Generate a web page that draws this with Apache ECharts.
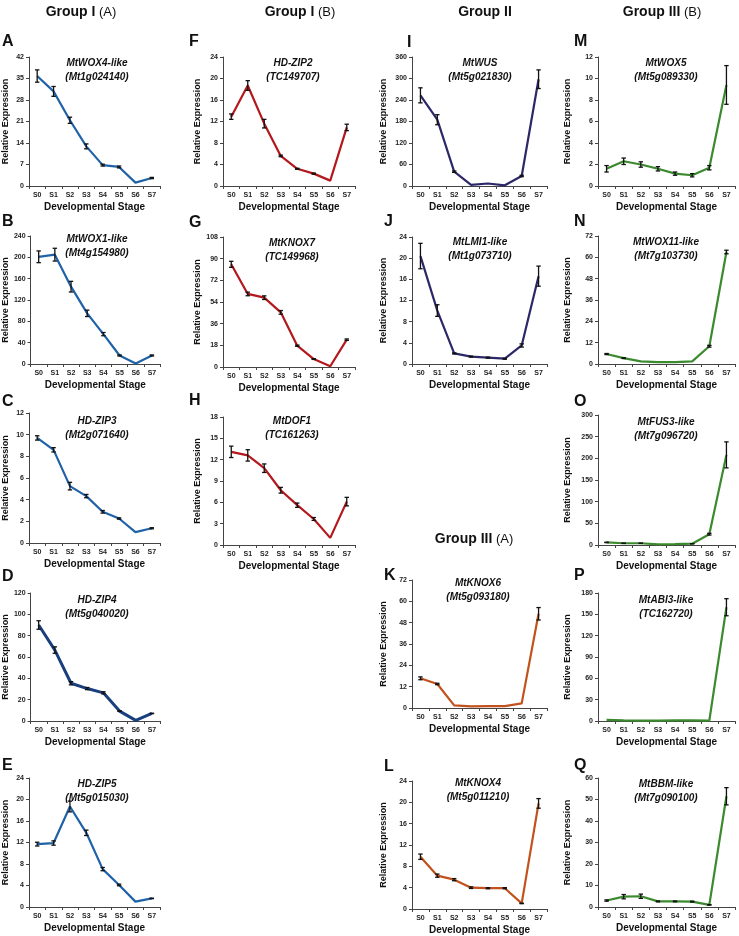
<!DOCTYPE html>
<html><head><meta charset="utf-8">
<script src="https://cdn.jsdelivr.net/npm/echarts@6/dist/echarts.min.js"></script>
<style>html,body{margin:0;padding:0;background:#fff}#c{width:739px;height:936px}</style>
</head><body><div id="c"></div>
<script>
// ---------- DATA ----------
const stages = ['S0','S1','S2','S3','S4','S5','S6','S7'];

const A_vals = [35.8, 30.8, 21.4, 12.9, 6.8, 6.2, 1.1, 2.6];
const A_err  = [2.0, 1.6, 1.0, 0.8, 0.3, 0.3, 0, 0.2];
const B_vals = [201, 205, 145, 95, 56, 16, 1, 16];
const B_err  = [11, 12, 10, 6, 3, 1, 0, 1];
const C_vals = [9.7, 8.6, 5.25, 4.33, 2.88, 2.26, 1.0, 1.36];
const C_err  = [0.2, 0.2, 0.35, 0.15, 0.12, 0.06, 0, 0.05];
const D_vals = [90, 66.5, 35.4, 30.4, 26.4, 9.3, 0.6, 7.1];
const D_err  = [4, 3, 1.5, 1, 1, 0.3, 0, 0.2];
const E_vals = [11.7, 11.9, 18.7, 13.8, 7.05, 4.1, 1.0, 1.6];
const E_err  = [0.35, 0.4, 1.0, 0.5, 0.3, 0.15, 0, 0.05];

const F_vals = [12.9, 18.7, 11.6, 5.6, 3.2, 2.3, 1.0, 10.9];
const F_err  = [0.5, 0.9, 0.8, 0.15, 0.1, 0.1, 0, 0.6];
const G_vals = [85.3, 60.7, 57.6, 45.4, 17.7, 6.6, 0.6, 22.7];
const G_err  = [2.5, 1.5, 1.5, 1.5, 0.5, 0.3, 0, 0.6];
const H_vals = [13.1, 12.6, 10.8, 7.7, 5.6, 3.66, 1.0, 6.1];
const H_err  = [0.8, 0.8, 0.6, 0.4, 0.3, 0.2, 0, 0.6];

const I_vals = [253, 185, 40, 3, 7, 2, 28, 298];
const I_err  = [21, 14, 2, 0, 0, 0, 2, 26];
const J_vals = [20.4, 10.1, 2.0, 1.4, 1.2, 1.0, 3.5, 16.6];
const J_err  = [2.4, 1.1, 0.1, 0.1, 0.1, 0.1, 0.3, 1.9];
const K_vals = [16.7, 13.5, 1.5, 0.9, 1.0, 1.1, 2.6, 53];
const K_err  = [0.8, 0.4, 0, 0, 0, 0, 0, 3.5];
const L_vals = [9.8, 6.25, 5.5, 4.0, 3.9, 3.9, 1.05, 19.8];
const L_err  = [0.5, 0.3, 0.2, 0.15, 0.1, 0.1, 0.05, 0.9];

const M_vals = [1.6, 2.3, 2.0, 1.6, 1.15, 1.0, 1.7, 9.4];
const M_err  = [0.3, 0.3, 0.25, 0.2, 0.15, 0.15, 0.2, 1.8];
const N_vals = [5.6, 3.3, 1.5, 1.0, 1.0, 1.5, 10, 63];
const N_err  = [0.3, 0.2, 0, 0, 0, 0, 0.5, 1];
const O_vals = [6, 4, 4, 1.5, 2, 3, 25, 208];
const O_err  = [0.5, 0.3, 0.3, 0, 0, 0.2, 2, 30];
const P_vals = [1.5, 1, 0.6, 0.6, 1, 1, 0.6, 160];
const P_err  = [0, 0, 0, 0, 0, 0, 0, 12];
const Q_vals = [3, 4.8, 5.0, 2.6, 2.6, 2.5, 1.0, 51.5];
const Q_err  = [0.3, 1.0, 1.0, 0.2, 0.2, 0.2, 0.1, 4];

const genes = {
  A:['MtWOX4-like','(Mt1g024140)'], B:['MtWOX1-like','(Mt4g154980)'],
  C:['HD-ZIP3','(Mt2g071640)'], D:['HD-ZIP4','(Mt5g040020)'], E:['HD-ZIP5','(Mt5g015030)'],
  F:['HD-ZIP2','(TC149707)'], G:['MtKNOX7','(TC149968)'], H:['MtDOF1','(TC161263)'],
  I:['MtWUS','(Mt5g021830)'], J:['MtLMI1-like','(Mt1g073710)'],
  K:['MtKNOX6','(Mt5g093180)'], L:['MtKNOX4','(Mt5g011210)'],
  M:['MtWOX5','(Mt5g089330)'], N:['MtWOX11-like','(Mt7g103730)'],
  O:['MtFUS3-like','(Mt7g096720)'], P:['MtABI3-like','(TC162720)'], Q:['MtBBM-like','(Mt7g090100)']
};
const yMax = {A:42,B:240,C:12,D:120,E:24,F:24,G:108,H:18,I:360,J:24,K:72,L:24,M:12,N:72,O:300,P:180,Q:60};
const yStep = {A:7,B:40,C:2,D:20,E:4,F:4,G:18,H:3,I:60,J:4,K:12,L:4,M:2,N:12,O:50,P:30,Q:10};
const groupHeaders = [['Group I','(A)'],['Group I','(B)'],['Group II',''],['Group III','(B)'],['Group III','(A)']];

const valsMap = {A:A_vals,B:B_vals,C:C_vals,D:D_vals,E:E_vals,F:F_vals,G:G_vals,H:H_vals,I:I_vals,J:J_vals,K:K_vals,L:L_vals,M:M_vals,N:N_vals,O:O_vals,P:P_vals,Q:Q_vals};
const errMap  = {A:A_err,B:B_err,C:C_err,D:D_err,E:E_err,F:F_err,G:G_err,H:H_err,I:I_err,J:J_err,K:K_err,L:L_err,M:M_err,N:N_err,O:O_err,P:P_err,Q:Q_err};

// ---------- LAYOUT ----------
const BLUE='#1f62a8', NAVY='#1a3f7e', RED='#b3181d', PURPLE='#2c2868', ORANGE='#c2521c', GREEN='#3b8a2e';
const layout = [
  // id, left, top, width, height, color, lineWidth, letterX, letterY, titleX, titleY, nameGap
  ['A', 29, 57, 131, 129, BLUE, 2.2, 2, 43, 97, 62, 19],
  ['B', 29, 236,131, 128, BLUE, 2.2, 2, 223, 97, 238, 19],
  ['C', 29, 413,131, 130, BLUE, 2.2, 2, 403, 97, 420, 19],
  ['D', 29, 593,131, 128, NAVY, 3, 2, 578, 97, 599, 19],
  ['E', 29, 778,131, 129, BLUE, 2.2, 2, 767, 97, 783, 19],
  ['F', 223, 57, 132, 129, RED, 2.2, 189, 43, 293, 62, 21],
  ['G', 223, 237,132, 130, RED, 2.2, 189, 224, 292, 242, 21],
  ['H', 223, 417,132, 128, RED, 2.2, 189, 402, 292, 420, 21],
  ['I', 412, 57, 135, 129, PURPLE, 2.2, 407, 44, 480, 62, 24],
  ['J', 412, 237,135, 127, PURPLE, 2.2, 384, 223, 480, 241, 24],
  ['K', 412, 580,135, 128, ORANGE, 2.2, 384, 577, 478, 582, 24],
  ['L', 412, 781,135, 128, ORANGE, 2.2, 384, 768, 478, 782, 24],
  ['M', 598, 57, 137, 129, GREEN, 2.2, 574, 43, 666, 62, 26],
  ['N', 598, 236,137, 128, GREEN, 2.2, 574, 223, 666, 241, 26],
  ['O', 598, 415,137, 130, GREEN, 2.2, 574, 403, 666, 421, 26],
  ['P', 598, 593,137, 128, GREEN, 2.2, 574, 577, 666, 599, 26],
  ['Q', 598, 778,137, 129, GREEN, 2.2, 574, 767, 666, 783, 26]
];
const headerPos = [[81,12],[300,12],[485,12],[662,12],[474,539]];

const SANS = '"Liberation Sans",Arial,sans-serif';

const grids=[], xAxes=[], yAxes=[], series=[], graphics=[];

function errRender(params, api){
  const x = api.value(0), v = api.value(1), e = api.value(2);
  if (!e) return null;
  const hi = api.coord([x, v+e]), lo = api.coord([x, v-e]);
  const w = 2.2, st = {stroke:'#111', lineWidth:1.3};
  return {type:'group', children:[
    {type:'line', shape:{x1:hi[0],y1:hi[1],x2:lo[0],y2:lo[1]}, style:st},
    {type:'line', shape:{x1:hi[0]-w,y1:hi[1],x2:hi[0]+w,y2:hi[1]}, style:st},
    {type:'line', shape:{x1:lo[0]-w,y1:lo[1],x2:lo[0]+w,y2:lo[1]}, style:st}
  ]};
}

layout.forEach((L, i) => {
  const [id, left, top, width, height, color, lw, lx, ly, tx, ty, ng] = L;
  grids.push({left, top, width, height, containLabel:false});
  xAxes.push({
    type:'category', gridIndex:i, data:stages, boundaryGap:true,
    name:'Developmental Stage', nameLocation:'middle', nameGap:16,
    nameTextStyle:{fontFamily:SANS, fontWeight:'bold', fontSize:10, color:'#111'},
    axisLine:{lineStyle:{color:'#444', width:1}},
    axisTick:{show:true, length:3, interval:0, lineStyle:{color:'#444'}},
    axisLabel:{fontFamily:SANS, fontSize:7, fontWeight:'bold', color:'#222', margin:6, interval:0}
  });
  yAxes.push({
    type:'value', gridIndex:i, min:0, max:yMax[id], interval:yStep[id],
    name:'Relative Expression', nameLocation:'middle', nameGap:ng,
    nameTextStyle:{fontFamily:SANS, fontWeight:'bold', fontSize:9, color:'#111'},
    axisLine:{show:true, lineStyle:{color:'#444', width:1}},
    axisTick:{show:true, length:3, lineStyle:{color:'#444'}},
    splitLine:{show:false},
    axisLabel:{fontFamily:SANS, fontSize:7, fontWeight:'bold', color:'#222', margin:5}
  });
  series.push({
    type:'line', xAxisIndex:i, yAxisIndex:i, data:valsMap[id], showSymbol:false,
    lineStyle:{color, width:lw}, itemStyle:{color}, z:2, silent:true, animation:false
  });
  series.push({
    type:'custom', xAxisIndex:i, yAxisIndex:i, renderItem:errRender, z:3, silent:true, animation:false,
    data: valsMap[id].map((v,k)=>[k, v, errMap[id][k]])
  });
  graphics.push({type:'text', left:lx, top:ly-9, style:{text:id, font:'bold 16px '+SANS, fill:'#111'}});
  graphics.push({type:'text', x:tx, y:ty-6, style:{text:genes[id][0]+'\n'+genes[id][1], font:'italic bold 10px '+SANS, fill:'#111', align:'center', verticalAlign:'top', lineHeight:14}});
});

groupHeaders.forEach((h, i) => {
  const [cx, cy] = headerPos[i];
  graphics.push({type:'text', x:cx, y:cy, style:{
    text:'{b|'+h[0]+'}'+(h[1]?'{n| '+h[1]+'}':''),
    align:'center', verticalAlign:'middle',
    rich:{b:{fontFamily:SANS, fontWeight:'bold', fontSize:14, fill:'#111'}, n:{fontFamily:SANS, fontSize:13, fill:'#111'}}
  }});
});

const chart = echarts.init(document.getElementById('c'), null, {renderer:'canvas'});
chart.setOption({animation:false, grid:grids, xAxis:xAxes, yAxis:yAxes, series, graphic:graphics});
</script></body></html>
